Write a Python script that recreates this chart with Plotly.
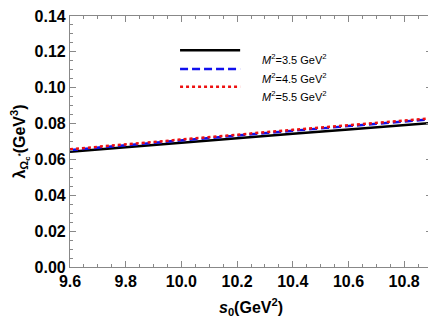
import plotly.graph_objects as go

s0 = [9.6, 9.8, 10.0, 10.2, 10.4, 10.6, 10.8, 10.9]
lam_M35 = [0.0643, 0.0669, 0.0694, 0.0719, 0.0743, 0.0767, 0.0791, 0.0803]
lam_M45 = [0.0652, 0.0680, 0.0707, 0.0734, 0.0760, 0.0786, 0.0811, 0.0824]
lam_M55 = [0.0657, 0.0685, 0.0712, 0.0739, 0.0765, 0.0791, 0.0817, 0.0830]
labels = ["<i>M</i><sup>2</sup>=3.5 GeV<sup>2</sup>",
          "<i>M</i><sup>2</sup>=4.5 GeV<sup>2</sup>",
          "<i>M</i><sup>2</sup>=5.5 GeV<sup>2</sup>"]
colors = ["black", "#1010ee", "#ee1010"]
dashes = ["solid", "8px,4px", "3px,3px"]

fig = go.Figure()
for ys, c, d in zip([lam_M35, lam_M45, lam_M55], colors, dashes):
    fig.add_trace(go.Scatter(x=s0, y=ys, mode="lines",
                             line=dict(color=c, width=2.5, dash=d),
                             showlegend=False))

# legend drawn manually
leg_y = [0.864, 0.789, 0.718]
for yy, c, d, t in zip(leg_y, colors, dashes, labels):
    fig.add_shape(type="line", xref="paper", yref="paper",
                  x0=0.304, x1=0.470, y0=yy, y1=yy,
                  line=dict(color=c, width=2.5, dash=d))
    fig.add_annotation(xref="paper", yref="paper", x=0.525, y=yy,
                       text=t, showarrow=False, xanchor="left",
                       font=dict(family="Arial", size=11, color="black"))

axis_common = dict(
    showline=True, linecolor="#888888", linewidth=1.2, mirror="allticks",
    ticks="inside", ticklen=6, tickcolor="#888888", tickwidth=1.2,
    showgrid=False, zeroline=False, automargin=False, ticklabeloverflow="allow",
    tickfont=dict(family="Arial", size=16, color="black", weight="bold"),
)
fig.update_xaxes(range=[9.6, 10.9], tickvals=[9.6, 9.8, 10.0, 10.2, 10.4, 10.6, 10.8],
                 ticktext=["9.6", "9.8", "10.0", "10.2", "10.4", "10.6", "10.8"],
                 minor=dict(ticks="inside", ticklen=3, tickcolor="#888888", dtick=0.05,
                            tick0=9.6, showgrid=False),
                 title=dict(text="<b><i>s</i><sub>0</sub>(GeV<sup>2</sup>)</b>",
                            font=dict(family="Arial", size=16, color="black"), standoff=12),
                 **axis_common)
fig.update_yaxes(range=[0, 0.14], tickvals=[0, 0.02, 0.04, 0.06, 0.08, 0.10, 0.12, 0.14],
                 ticktext=["0.00", "0.02", "0.04", "0.06", "0.08", "0.10", "0.12", "0.14"],
                 minor=dict(ticks="inside", ticklen=3, tickcolor="#888888", dtick=0.005,
                            tick0=0, showgrid=False),
                 title=dict(text="<b>λ<sub>Ω<sub>c</sub><sup>*</sup></sub>(GeV<sup>3</sup>)</b>",
                            font=dict(family="Arial", size=16, color="black"), standoff=6),
                 **axis_common)
fig.update_layout(width=428, height=319, margin=dict(l=62, r=4, t=8, b=60),
                  plot_bgcolor="white", paper_bgcolor="white")
fig.write_html("out.html")
